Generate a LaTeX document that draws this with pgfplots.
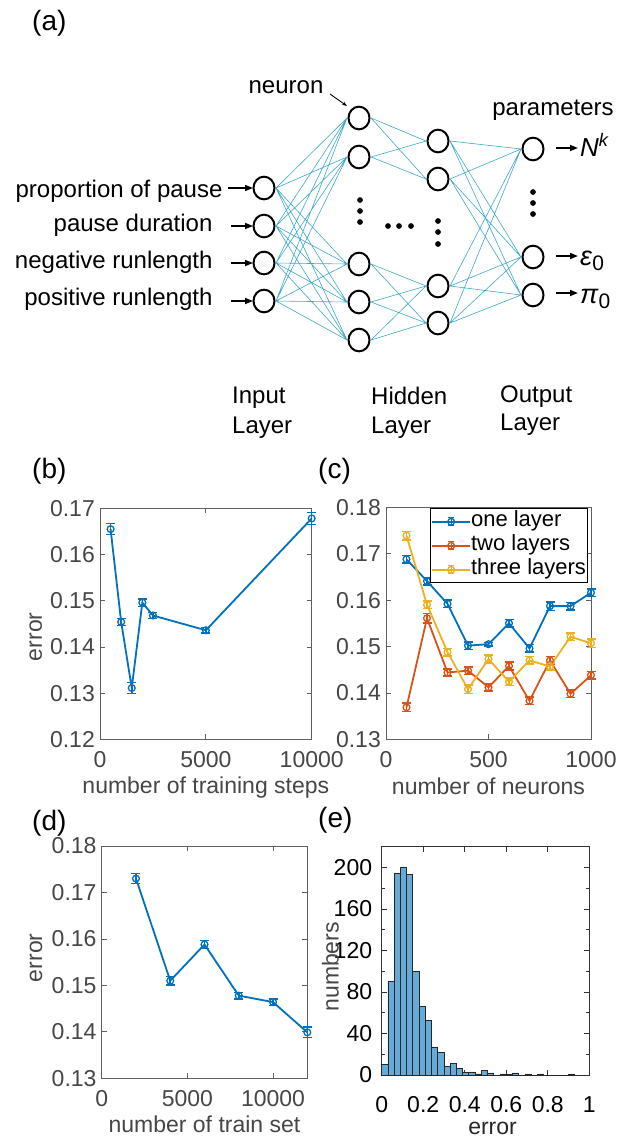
\documentclass[border=0pt]{standalone}
\usepackage{fontspec}
\setmainfont{Liberation Sans}
\usepackage{pgfplots}
\pgfplotsset{compat=1.18}
\usetikzlibrary{arrows.meta}

\definecolor{mblue}{RGB}{0,114,189}
\definecolor{mred}{RGB}{217,83,25}
\definecolor{myellow}{RGB}{237,177,32}
\definecolor{histfill}{RGB}{102,170,215}
\definecolor{netline}{RGB}{60,170,205}
\definecolor{axgray}{RGB}{95,95,95}
\definecolor{txtgray}{RGB}{70,70,70}

\newcommand{\fs}[1]{\fontsize{#1}{#1}\selectfont}

\pgfplotsset{
  panel/.style={
    scale only axis, anchor=south west, clip=false,
    axis line style={axgray, line width=0.8pt},
    every tick/.style={axgray, line width=0.8pt},
    major tick length=5pt, minor tick length=3pt, tick align=inside,
    tick label style={font=\fs{23}, text=txtgray},
    xticklabel style={inner sep=0pt, yshift=-12pt},
    yticklabel style={inner sep=0pt, xshift=-5pt},
    label style={font=\fs{23}, text=txtgray, inner sep=1pt},
    xlabel style={anchor=base}, ylabel style={anchor=base},
    /pgf/number format/assume math mode=true,
    /pgf/number format/1000 sep={},
    scaled ticks=false,
  },
  errline/.style={color=#1, line width=1.8pt, mark=o, mark size=3.4pt,
    mark options={line width=1.3pt, solid},
    error bars/y dir=both, error bars/y explicit,
    error bars/error bar style={line width=1.5pt, color=#1},
    error bars/error mark options={rotate=90, line width=1.5pt, mark size=4.5pt, color=#1}},
}

\begin{document}
\begin{tikzpicture}
\useasboundingbox (0,0) rectangle (625pt,-1141pt);

% ---------------- (a) network sketch ----------------
\begin{axis}[at={(0pt,0pt)}, anchor=north west, scale only axis,
  width=625pt, height=450pt, xmin=0, xmax=625, ymin=0, ymax=450,
  y dir=reverse, hide axis, clip=false]
% input -> hidden 1
\addplot[netline, line width=0.6pt, unbounded coords=jump] coordinates {
 (276,188)(347,118) (nan,nan) (276,188)(347,157) (nan,nan) (276,188)(347,264) (nan,nan) (276,188)(347,302) (nan,nan) (276,188)(347,340) (nan,nan)
 (276,226)(347,118) (nan,nan) (276,226)(347,157) (nan,nan) (276,226)(347,264) (nan,nan) (276,226)(347,302) (nan,nan) (276,226)(347,340) (nan,nan)
 (276,263)(347,118) (nan,nan) (276,263)(347,157) (nan,nan) (276,263)(347,264) (nan,nan) (276,263)(347,302) (nan,nan) (276,263)(347,340) (nan,nan)
 (276,301)(347,118) (nan,nan) (276,301)(347,157) (nan,nan) (276,301)(347,264) (nan,nan) (276,301)(347,302) (nan,nan) (276,301)(347,340)};
% hidden 1 -> hidden 2
\addplot[netline, line width=0.6pt, unbounded coords=jump] coordinates {
 (371,118)(426,141) (nan,nan) (371,118)(426,179) (nan,nan) (371,157)(426,141) (nan,nan) (371,157)(426,179) (nan,nan)
 (371,264)(426,286) (nan,nan) (371,264)(426,323) (nan,nan) (371,302)(426,286) (nan,nan) (371,302)(426,323) (nan,nan)
 (371,340)(426,286) (nan,nan) (371,340)(426,323)};
% hidden 2 -> output
\addplot[netline, line width=0.6pt, unbounded coords=jump] coordinates {
 (450,141)(521,149) (nan,nan) (450,141)(521,257) (nan,nan) (450,141)(521,295) (nan,nan)
 (450,179)(521,149) (nan,nan) (450,179)(521,257) (nan,nan) (450,179)(521,295) (nan,nan)
 (450,286)(521,149) (nan,nan) (450,286)(521,257) (nan,nan) (450,286)(521,295) (nan,nan)
 (450,323)(521,149) (nan,nan) (450,323)(521,257) (nan,nan) (450,323)(521,295)};
% neurons
\addplot[only marks, mark=o, mark size=10.5pt, mark options={line width=2pt, black, fill=white, yscale=1.08}] coordinates {
 (264,188)(264,226)(264,263)(264,301)
 (359,118)(359,157)(359,264)(359,302)(359,340)
 (438,141)(438,179)(438,286)(438,323)
 (533,149)(533,257)(533,295)};
% ellipsis dots
\addplot[only marks, mark=*, mark size=2.6pt, black] coordinates {
 (360,200)(360,211)(360,222)(388,226)(399,226)(411,226)
 (438,221)(438,232)(438,244)(533,192)(533,203)(533,214)};
% input / output arrows
\addplot[black, line width=1.6pt, -{Triangle[length=8pt,width=6pt]}] coordinates {(228,188)(253,188)};
\addplot[black, line width=1.6pt, -{Triangle[length=8pt,width=6pt]}] coordinates {(231,226)(253,226)};
\addplot[black, line width=1.6pt, -{Triangle[length=8pt,width=6pt]}] coordinates {(231,263)(253,263)};
\addplot[black, line width=1.6pt, -{Triangle[length=8pt,width=6pt]}] coordinates {(231,301)(253,301)};
\addplot[black, line width=1.6pt, -{Triangle[length=8pt,width=6pt]}] coordinates {(556,148)(578,148)};
\addplot[black, line width=1.6pt, -{Triangle[length=8pt,width=6pt]}] coordinates {(556,256)(578,256)};
\addplot[black, line width=1.6pt, -{Triangle[length=8pt,width=6pt]}] coordinates {(556,293)(578,293)};
\addplot[black, line width=0.9pt, -{Stealth[length=5pt]}] coordinates {(330,94)(347,106)};

\node[anchor=base east, font=\fs{24}] at (226,197) {proportion of pause};
\node[anchor=base east, font=\fs{24}] at (216,231) {pause duration};
\node[anchor=base east, font=\fs{24}] at (216,268) {negative runlength};
\node[anchor=base east, font=\fs{24}] at (216,305) {positive runlength};
\node[anchor=base, font=\fs{24}] at (286,93) {neuron};
\node[anchor=base, font=\fs{24}] at (553,115) {parameters};
\node[anchor=base west, font=\fs{26}, inner sep=0pt] at (580,156) {\textit{N}\textsuperscript{\textit{k}}};
\node[anchor=base west, font=\fs{27}, inner sep=0pt] at (580,265) {\textit{ε}\raisebox{-5pt}{\fs{21}0}};
\node[anchor=base west, font=\fs{27}, inner sep=0pt] at (580,303) {\textit{π}\raisebox{-5pt}{\fs{21}0}};
\node[anchor=base west, font=\fs{24}, inner sep=0pt] at (232,403) {Input};
\node[anchor=base west, font=\fs{24}, inner sep=0pt] at (232,433) {Layer};
\node[anchor=base west, font=\fs{24}, inner sep=0pt] at (371,404) {Hidden};
\node[anchor=base west, font=\fs{24}, inner sep=0pt] at (371,433) {Layer};
\node[anchor=base west, font=\fs{24}, inner sep=0pt] at (500,402) {Output};
\node[anchor=base west, font=\fs{24}, inner sep=0pt] at (500,430) {Layer};
\end{axis}

% panel letters
\node[anchor=base west, font=\fs{28}, inner sep=0pt] at (32pt,-30pt) {(a)};
\node[anchor=base west, font=\fs{28}, inner sep=0pt] at (32pt,-478pt) {(b)};
\node[anchor=base west, font=\fs{28}, inner sep=0pt] at (318pt,-478pt) {(c)};
\node[anchor=base west, font=\fs{28}, inner sep=0pt] at (32pt,-830pt) {(d)};
\node[anchor=base west, font=\fs{28}, inner sep=0pt] at (318pt,-827pt) {(e)};

% ---------------- (b) training steps ----------------
\begin{axis}[panel, at={(100pt,-739.3pt)}, width=211.7pt, height=231pt,
  xmin=0, xmax=10000, ymin=0.12, ymax=0.17,
  xtick={0,5000,10000}, ytick={0.12,0.13,0.14,0.15,0.16,0.17},
  yticklabel style={/pgf/number format/fixed, /pgf/number format/precision=2, /pgf/number format/fixed zerofill},
  xlabel={number of training steps}, ylabel={error},
  xlabel style={at={(axis description cs:0.5,-0.2325)}},
  ylabel style={at={(axis description cs:-0.274,0.444)}}]
\addplot[errline=mblue] coordinates {
 (500,0.1655) +- (0,0.0012)
 (1000,0.1454) +- (0,0.0008)
 (1500,0.1311) +- (0,0.0012)
 (2000,0.1496) +- (0,0.0008)
 (2500,0.1468) +- (0,0.0006)
 (5000,0.1436) +- (0,0.0006)
 (10000,0.1678) +- (0,0.0013)};
\end{axis}

% ---------------- (c) number of neurons ----------------
\begin{axis}[panel, at={(386pt,-739.3pt)}, width=205pt, height=232pt,
  xmin=0, xmax=1000, ymin=0.13, ymax=0.18,
  xtick={0,500,1000}, ytick={0.13,0.14,0.15,0.16,0.17,0.18},
  yticklabel style={/pgf/number format/fixed, /pgf/number format/precision=2, /pgf/number format/fixed zerofill},
  xlabel={number of neurons},
  xlabel style={at={(axis description cs:0.5,-0.236)}},
  legend style={at={(axis description cs:0.982,0.995)}, anchor=north east,
    draw=black, line width=0.6pt, font=\fs{22}, text=black, inner sep=1pt,
    nodes={inner sep=0pt, text height=17pt, text depth=7pt}, row sep=0pt, cells={anchor=west}},
  legend image code/.code={
    \draw[mark repeat=2, mark phase=2, #1] plot coordinates {(0pt,0pt) (19pt,0pt) (38pt,0pt)};
    \draw[#1, mark=none, line width=1.2pt] (19pt,-4pt) -- (19pt,4pt);
    \draw[#1, mark=none, line width=1.2pt] (16pt,4pt) -- (22pt,4pt);
    \draw[#1, mark=none, line width=1.2pt] (16pt,-4pt) -- (22pt,-4pt);}]
\addplot[errline=mblue] coordinates {
 (100,0.1688) +- (0,0.0008) (200,0.1641) +- (0,0.0008) (300,0.1592) +- (0,0.0008)
 (400,0.1502) +- (0,0.0008) (500,0.1505) +- (0,0.0004) (600,0.1550) +- (0,0.0008)
 (700,0.1496) +- (0,0.0008) (800,0.1587) +- (0,0.0009) (900,0.1587) +- (0,0.0008)
 (1000,0.1616) +- (0,0.0008)};
\addplot[errline=mred] coordinates {
 (100,0.1369) +- (0,0.0009) (200,0.1561) +- (0,0.0010) (300,0.1444) +- (0,0.0008)
 (400,0.1448) +- (0,0.0008) (500,0.1412) +- (0,0.0008) (600,0.1458) +- (0,0.0009)
 (700,0.1383) +- (0,0.0008) (800,0.1470) +- (0,0.0008) (900,0.1398) +- (0,0.0008)
 (1000,0.1438) +- (0,0.0008)};
\addplot[errline=myellow] coordinates {
 (100,0.1739) +- (0,0.0009) (200,0.1590) +- (0,0.0008) (300,0.1488) +- (0,0.0008)
 (400,0.1408) +- (0,0.0009) (500,0.1473) +- (0,0.0009) (600,0.1424) +- (0,0.0008)
 (700,0.1470) +- (0,0.0008) (800,0.1457) +- (0,0.0008) (900,0.1521) +- (0,0.0008)
 (1000,0.1507) +- (0,0.0009)};
\legend{one layer, two layers, three layers}
\end{axis}

% ---------------- (d) size of train set ----------------
\begin{axis}[panel, at={(101.7pt,-1078.3pt)}, width=205.6pt, height=232.3pt,
  xmin=0, xmax=12000, ymin=0.13, ymax=0.18,
  xtick={0,5000,10000}, ytick={0.13,0.14,0.15,0.16,0.17,0.18},
  yticklabel style={/pgf/number format/fixed, /pgf/number format/precision=2, /pgf/number format/fixed zerofill},
  xlabel={number of train set}, ylabel={error},
  xlabel style={at={(axis description cs:0.5,-0.235)}},
  ylabel style={at={(axis description cs:-0.290,0.519)}}]
\addplot[errline=mblue] coordinates {
 (2000,0.1730) +- (0,0.0011)
 (4000,0.1510) +- (0,0.0009)
 (6000,0.1588) +- (0,0.0009)
 (8000,0.1478) +- (0,0.0007)
 (10000,0.1464) +- (0,0.0007)
 (12000,0.1399) +- (0,0.0011)};
\end{axis}

% ---------------- (e) error histogram ----------------
\begin{axis}[panel, at={(381.7pt,-1075pt)}, width=207.6pt, height=228.3pt,
  axis line style={black!80, line width=0.8pt},
  every tick/.style={black!80, line width=0.8pt},
  tick label style={font=\fs{23}, text=black},
  label style={font=\fs{23}, text=black!85},
  xticklabel style={yshift=-9pt}, yticklabel style={xshift=-4.4pt},
  xmin=0, xmax=1, ymin=0, ymax=220,
  xtick={0,0.2,0.4,0.6,0.8,1}, ytick={0,40,80,120,160,200},
  minor ytick={20,60,100,140,180,220},
  xlabel={error}, ylabel={numbers},
  xlabel style={at={(axis description cs:0.534,-0.262)}},
  ylabel style={at={(axis description cs:-0.208,0.474)}, text=txtgray}]
\addplot[ybar interval, fill=histfill, draw=black!85, line width=0.8pt] coordinates {
 (0.00,10) (0.03,90) (0.06,194) (0.09,200) (0.12,193) (0.15,100) (0.18,66)
 (0.21,53) (0.24,27) (0.27,22) (0.30,8) (0.33,11) (0.36,6) (0.39,3) (0.42,3)
 (0.45,1) (0.48,4) (0.51,2) (0.54,0) (0.57,1) (0.60,1) (0.63,2) (0.66,0)
 (0.69,1) (0.72,0) (0.75,1) (0.78,0) (0.81,0) (0.84,0) (0.87,0) (0.90,1) (0.93,0)};
\end{axis}
\end{tikzpicture}
\end{document}
